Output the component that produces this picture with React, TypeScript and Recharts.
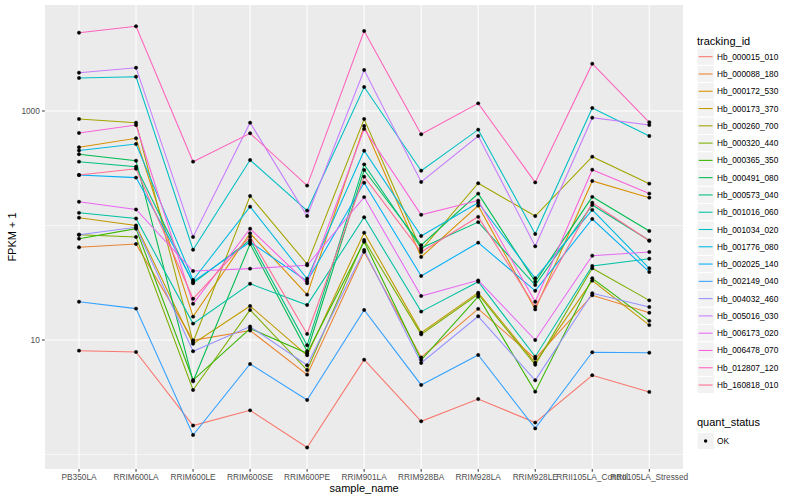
import React from 'react';
import { LineChart, Line, XAxis, YAxis, ReferenceLine } from 'recharts';

const FONT = '"Liberation Sans", Arial, Helvetica, sans-serif';

const categories = [
  'PB350LA', 'RRIM600LA', 'RRIM600LE', 'RRIM600SE', 'RRIM600PE', 'RRIM901LA',
  'RRIM928BA', 'RRIM928LA', 'RRIM928LE', 'RRII105LA_Control', 'RRII105LA_Stressed',
];

const trackingIds = [
  'Hb_000015_010', 'Hb_000088_180', 'Hb_000172_530', 'Hb_000173_370', 'Hb_000260_700',
  'Hb_000320_440', 'Hb_000365_350', 'Hb_000491_080', 'Hb_000573_040', 'Hb_001016_060',
  'Hb_001034_020', 'Hb_001776_080', 'Hb_002025_140', 'Hb_002149_040', 'Hb_004032_460',
  'Hb_005016_030', 'Hb_006173_020', 'Hb_006478_070', 'Hb_012807_120', 'Hb_160818_010',
];

const seriesColors = [
  '#F8766D', '#EA8331', '#D89000', '#C09B00', '#A3A500', '#7CAE00', '#39B600', '#00BB4E',
  '#00BF7D', '#00C1A3', '#00BFC4', '#00BAE0', '#00B0F6', '#35A2FF', '#9590FF', '#C77CFF',
  '#E76BF3', '#FA62DB', '#FF62BC', '#FF6C91',
];

// FPKM + 1 values, one per category
const Hb_000015_010 = [8.07, 7.86, 1.79, 2.43, 1.15, 6.73, 1.95, 3.05, 1.9, 4.92, 3.52];
const Hb_000088_180 = [64.5, 68.9, 9.94, 12.1, 4.98, 59.0, 7.03, 18.7, 6.87, 24.6, 17.3];
const Hb_000172_530 = [482, 578, 16.0, 85.5, 24.9, 740, 53.1, 149, 18.5, 245, 175];
const Hb_000173_370 = [117, 100, 9.28, 19.8, 7.35, 86.5, 11.6, 25.9, 6.33, 33.0, 13.5];
const Hb_000260_700 = [851, 790, 9.6, 181, 46.1, 851, 61.1, 234, 121, 399, 232];
const Hb_000320_440 = [83.1, 79.4, 3.66, 18.3, 5.47, 74.7, 11.2, 25.1, 6.08, 42.3, 22.2];
const Hb_000365_350 = [76.7, 93.8, 4.47, 12.6, 7.65, 72.2, 6.69, 23.9, 3.54, 34.6, 14.7];
const Hb_000491_080 = [419, 368, 4.36, 68.9, 7.97, 305, 67.2, 190, 32.3, 178, 89.5];
const Hb_000573_040 = [361, 326, 31.3, 74.7, 8.99, 342, 63.6, 107, 30.2, 151, 74.0];
const Hb_001016_060 = [129, 115, 13.9, 31.0, 20.2, 118, 17.7, 32.3, 7.15, 44.3, 51.3];
const Hb_001034_020 = [1942, 1993, 61.4, 373, 135, 1620, 301, 687, 84.3, 1062, 605];
const Hb_001776_080 = [452, 515, 33.4, 146, 34.3, 450, 81, 158, 34.6, 137, 42.3];
const Hb_002025_140 = [276, 262, 32.3, 71.8, 32.6, 236, 36.2, 70.8, 26.9, 114, 39.3];
const Hb_002149_040 = [21.6, 18.8, 1.48, 6.17, 2.99, 18.3, 4.05, 7.40, 1.69, 7.81, 7.74];
const Hb_004032_460 = [83.1, 96.4, 7.97, 13.1, 6.01, 61.1, 6.30, 16.1, 4.45, 25.6, 19.4];
const Hb_005016_030 = [2160, 2389, 79.4, 790, 121, 2281, 240, 605, 65.8, 874, 755];
const Hb_006173_020 = [161, 138, 40.0, 42.0, 44.9, 177, 24.2, 33.2, 10.0, 54.5, 58.7];
const Hb_006478_070 = [643, 755, 20.7, 93.8, 31.3, 696, 124, 165, 21.6, 307, 190];
const Hb_012807_120 = [4830, 5492, 361, 639, 223, 4995, 626, 1167, 238, 2589, 797];
const Hb_160818_010 = [276, 313, 22.9, 79.9, 11.3, 267, 58.7, 119, 19.5, 158, 73.6];

const seriesValues = [
  Hb_000015_010, Hb_000088_180, Hb_000172_530, Hb_000173_370, Hb_000260_700,
  Hb_000320_440, Hb_000365_350, Hb_000491_080, Hb_000573_040, Hb_001016_060,
  Hb_001034_020, Hb_001776_080, Hb_002025_140, Hb_002149_040, Hb_004032_460,
  Hb_005016_030, Hb_006173_020, Hb_006478_070, Hb_012807_120, Hb_160818_010,
];

const yTicks = [10, 1000];
const yMajorGrid = [10, 1000];
const yMinorGrid = [1, 100];
const Y_MIN = 0.747;
const Y_MAX = 8430;

const data = categories.map((name, i) => {
  const row: Record<string, any> = { name };
  trackingIds.forEach((id, k) => {
    row[id] = seriesValues[k][i];
  });
  return row;
});

// layout
const PLOT_L = 44.8;
const PLOT_R = 683.5;
const PLOT_T = 5;
const PLOT_B = 469;
const STEP = (PLOT_R - PLOT_L) / (categories.length - 1 + 1.2);
const PAD = STEP * 0.6;

const LEG_X = 697;
const KEY = 17.28;
const KEY0 = 56.7;

export default function App() {
  return (
    <div style={{ position: 'absolute', left: 0, top: 0, width: 800, height: 500, background: '#FFFFFF', fontFamily: FONT }}>
      <div style={{ position: 'absolute', left: PLOT_L, top: PLOT_T, width: PLOT_R - PLOT_L, height: PLOT_B - PLOT_T, background: '#EBEBEB' }} />
      <div style={{ position: 'absolute', left: 0, top: 0 }}>
        <LineChart width={800} height={500} data={data} margin={{ top: PLOT_T, right: 800 - PLOT_R, bottom: 0, left: 0 }}>
          <XAxis
            dataKey="name"
            type="category"
            interval={0}
            height={500 - PLOT_B}
            padding={{ left: PAD, right: PAD }}
            axisLine={false}
            stroke="#333333"
            tickSize={2.75}
            tickMargin={2.2}
            tick={{ fontSize: 8.3, fill: '#4D4D4D', fontFamily: FONT }}
          />
          <YAxis
            type="number"
            scale="log"
            domain={[Y_MIN, Y_MAX]}
            allowDataOverflow
            ticks={yTicks}
            tickFormatter={(v: number) => String(v)}
            width={PLOT_L}
            axisLine={false}
            stroke="#333333"
            tickSize={2.75}
            tickMargin={2.2}
            tick={{ fontSize: 8.3, fill: '#4D4D4D', fontFamily: FONT }}
          />
          {yMinorGrid.map((v) => (
            <ReferenceLine key={'ymin' + v} y={v} stroke="#FFFFFF" strokeWidth={0.55} />
          ))}
          {yMajorGrid.map((v) => (
            <ReferenceLine key={'ymaj' + v} y={v} stroke="#FFFFFF" strokeWidth={1.07} />
          ))}
          {categories.map((c) => (
            <ReferenceLine key={'x' + c} x={c} stroke="#FFFFFF" strokeWidth={1.07} />
          ))}
          {trackingIds.map((id, k) => (
            <Line
              key={'l' + id}
              type="linear"
              dataKey={id}
              stroke={seriesColors[k]}
              strokeWidth={1.07}
              dot={false}
              activeDot={false}
              isAnimationActive={false}
            />
          ))}
          {trackingIds.map((id) => (
            <Line
              key={'p' + id}
              type="linear"
              dataKey={id}
              stroke="none"
              strokeWidth={0}
              dot={{ r: 1.7, fill: '#000000', stroke: '#000000', strokeWidth: 0.4 }}
              activeDot={false}
              isAnimationActive={false}
            />
          ))}
        </LineChart>
      </div>
      <svg width={800} height={500} style={{ position: 'absolute', left: 0, top: 0, pointerEvents: 'none' }} fontFamily={FONT}>
        <text x={12} y={(PLOT_T + PLOT_B) / 2} fontSize={11} fill="#000000" textAnchor="middle" dominantBaseline="central" transform={`rotate(-90 12 ${(PLOT_T + PLOT_B) / 2})`}>
          FPKM + 1
        </text>
        <text x={(PLOT_L + PLOT_R) / 2} y={492} fontSize={11} fill="#000000" textAnchor="middle">
          sample_name
        </text>
        <text x={LEG_X} y={44.5} fontSize={11} fill="#000000">tracking_id</text>
        {trackingIds.map((id, k) => {
          const cy = KEY0 + k * KEY;
          return (
            <g key={'leg' + id}>
              <rect x={LEG_X} y={cy - KEY / 2} width={KEY} height={KEY} fill="#F2F2F2" stroke="#FFFFFF" strokeWidth={1} />
              <line x1={LEG_X + 1.7} x2={LEG_X + KEY - 1.7} y1={cy} y2={cy} stroke={seriesColors[k]} strokeWidth={1.07} />
              <text x={LEG_X + KEY + 2.7} y={cy + 3} fontSize={8.3} fill="#000000">{id}</text>
            </g>
          );
        })}
        <text x={LEG_X} y={425.5} fontSize={11} fill="#000000">quant_status</text>
        <rect x={LEG_X} y={441 - KEY / 2} width={KEY} height={KEY} fill="#F2F2F2" stroke="#FFFFFF" strokeWidth={1} />
        <circle cx={LEG_X + KEY / 2} cy={441} r={1.7} fill="#000000" />
        <text x={LEG_X + KEY + 2.7} y={444} fontSize={8.3} fill="#000000">OK</text>
      </svg>
    </div>
  );
}
